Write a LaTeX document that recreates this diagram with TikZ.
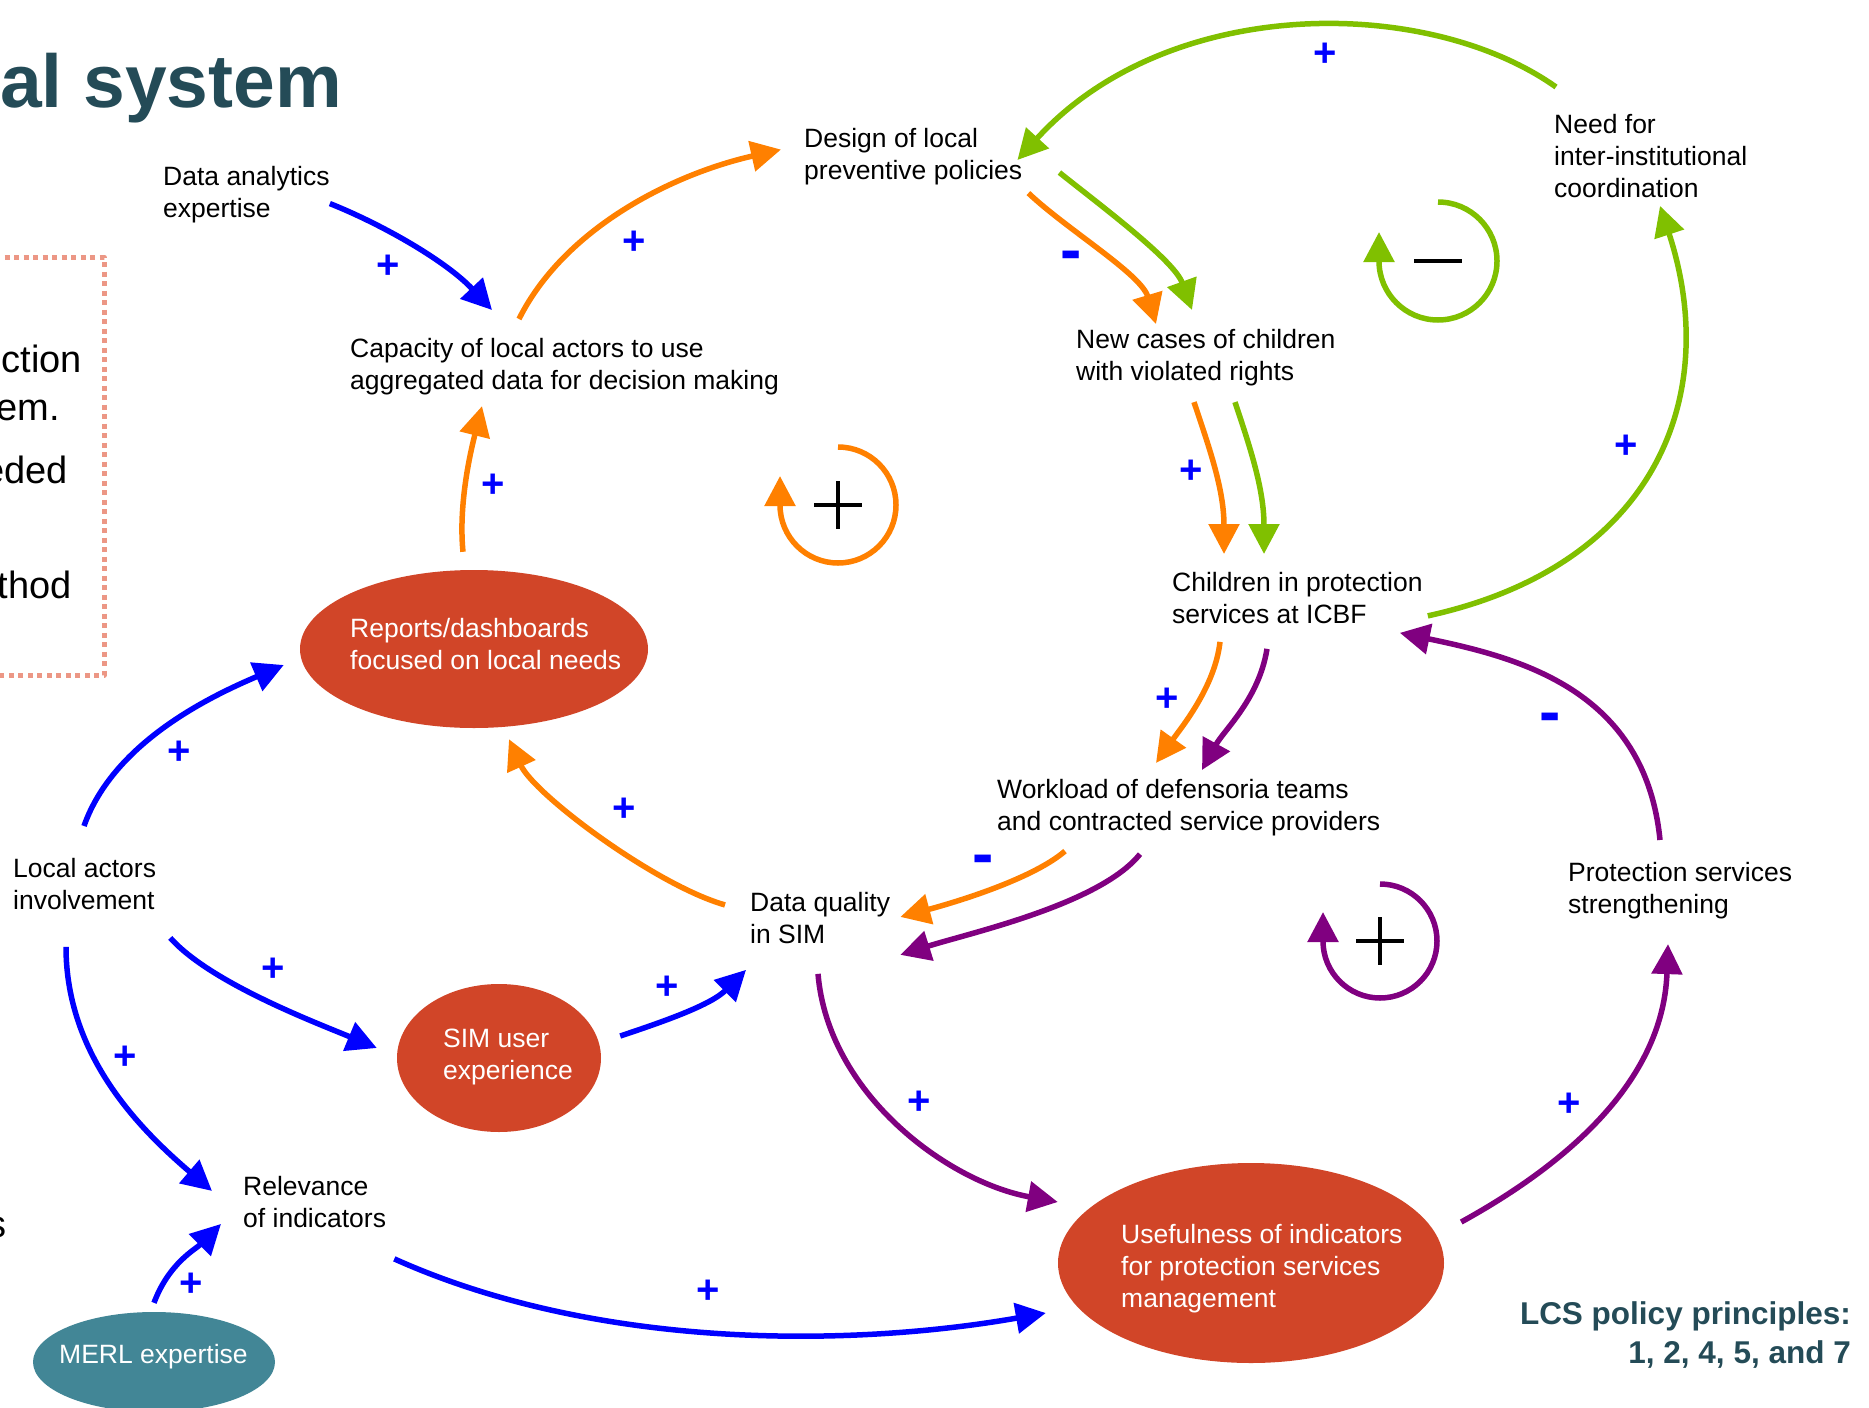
\documentclass[tikz,border=0pt]{standalone}
\usepackage{fontspec}
\setmainfont{Liberation Sans}
\usetikzlibrary{arrows.meta,shapes.geometric}
\definecolor{cblue}{HTML}{0000FF}
\definecolor{corange}{HTML}{FF8000}
\definecolor{cgreen}{HTML}{80C000}
\definecolor{cpurple}{HTML}{800080}
\definecolor{cred}{HTML}{D14528}
\definecolor{cteal}{HTML}{428696}
\definecolor{ctitle}{HTML}{244B57}
\definecolor{csalmon}{HTML}{EC9785}
\newcommand\txt{\fontsize{26.5}{32}\selectfont}
\newcommand\sgn{\fontsize{40}{40}\selectfont\bfseries}
\newcommand\dsh{\fontsize{64}{64}\selectfont\bfseries}
\newcommand\frag{\fontsize{38}{46}\selectfont}
\begin{document}
\begin{tikzpicture}[x=1pt,y=-1pt,>={Triangle[length=30pt,width=30pt]},line join=round,
	lbl/.style={font=\txt,align=left,inner sep=0pt,anchor=north west},
	wlbl/.style={lbl,text=white},
	blob/.style={ellipse,fill=cred,inner sep=0pt},
	lnk/.style={line width=5.5pt,->},
	possign/.style={font=\sgn,text=cblue,inner sep=0pt},
	negsign/.style={font=\dsh,text=cblue,inner sep=0pt},
	polmark/.style={line width=3.5pt,black}]
	\useasboundingbox (0,0) rectangle (1869,1408);
	\node[font=\fontsize{75}{75}\selectfont\bfseries,text=ctitle,inner sep=0pt,anchor=base west] (ttl) at (0,107) {al system};
	\draw[csalmon,line width=5pt,dash pattern=on 5pt off 4.5pt] (-5,257) -- (104,257) -- (104,675) -- (-5,675);
	\node[font=\frag,inner sep=0pt,anchor=base east] (fa) at (82,372) {ection};
	\node[font=\frag,inner sep=0pt,anchor=base east] (fb) at (60,420) {em.};
	\node[font=\frag,inner sep=0pt,anchor=base east] (fc) at (68,483) {eded};
	\node[font=\frag,inner sep=0pt,anchor=base east] (fd) at (72,598) {thod};
	\node[font=\frag,inner sep=0pt,anchor=base east] (fe) at (7,1237) {s};

	\node[lbl] (dae) at (163,166) {Data analytics\\expertise};
	\node[lbl] (cap) at (350,338) {Capacity of local actors to use\\aggregated data for decision making};
	\node[lbl] (dlp) at (804,128) {Design of local\\preventive policies};
	\node[lbl] (ncc) at (1076,329) {New cases of children\\with violated rights};
	\node[lbl] (nic) at (1554,114) {Need for\\inter-institutional\\coordination};
	\node[lbl] (cps) at (1172,572) {Children in protection\\services at ICBF};
	\node[lbl] (wdt) at (997,779) {Workload of defensoria teams\\and contracted service providers};
	\node[lbl] (dqs) at (750,892) {Data quality\\in SIM};
	\node[lbl] (psv) at (1568,862) {Protection services\\strengthening};
	\node[lbl] (lai) at (13,858) {Local actors\\involvement};
	\node[lbl] (roi) at (243,1176) {Relevance\\of indicators};

	\node[blob,minimum width=348pt,minimum height=158pt] (rep) at (474,649) {};
	\node[wlbl] (reptxt) at (350,618) {Reports/dashboards\\focused on local needs};
	\node[blob,minimum width=204pt,minimum height=148pt] (sue) at (499,1058) {};
	\node[wlbl] (suetxt) at (443,1029) {SIM user\\experience};
	\node[blob,minimum width=386pt,minimum height=200pt] (uip) at (1251,1263) {};
	\node[wlbl] (uiptxt) at (1121,1224) {Usefulness of indicators\\for protection services\\management};
	\node[blob,fill=cteal,minimum width=242pt,minimum height=100pt] (mex) at (154,1362) {};
	\node[wlbl] (mextxt) at (59,1344) {MERL expertise};
	\node[font=\fontsize{31.5}{39}\selectfont\bfseries,text=ctitle,align=right,inner sep=0pt,anchor=north east] (lcs) at (1851,1301) {LCS policy principles:\\1, 2, 4, 5, and 7};

	\draw[lnk,cblue] ([shift={(0,9)}]dae.east) .. controls +(55,22) and +(-45,-48) .. ([shift={(142,-28)}]cap.north west);
	\draw[lnk,cblue] ([shift={(71,-32)}]lai.north west) .. controls +(30,-85) and +(-70,30) .. ([shift={(-16,16)}]rep.west);
	\draw[lnk,cblue] ([shift={(14,28)}]lai.south east) .. controls +(40,45) and +(-60,-25) .. ([shift={(-20,-10)}]sue.west);
	\draw[lnk,cblue] ([shift={(53,37)}]lai.south west) .. controls +(0,110) and +(-70,-60) .. ([shift={(-31,-11)}]roi.west);
	\draw[lnk,cblue] ([shift={(19,-22)}]sue.east) .. controls +(45,-15) and +(-35,35) .. ([shift={(-4,26)}]dqs.south west);
	\draw[lnk,cblue] ([shift={(0,-9)}]mex.north) .. controls +(15,-40) and +(-25,25) .. ([shift={(-22,22)}]roi.west);
	\draw[lnk,cblue] ([shift={(8,31)}]roi.south east) .. controls +(200,90) and +(-200,35) .. ([shift={(-12,50)}]uip.west);

	\draw[lnk,corange] ([shift={(169,-19)}]cap.north west) .. controls +(45,-90) and +(-110,25) .. ([shift={(-23,-7)}]dlp.west);
	\draw[lnk,corange] ([shift={(-11,-18)}]rep.north) .. controls +(-5,-50) and +(-10,40) .. ([shift={(132,11)}]cap.south west);
	\draw[lnk,corange] ([shift={(6,8)}]dlp.south east) .. controls +(38,36) and +(-15,-50) .. ([shift={(80,-5)}]ncc.north west);
	\draw[lnk,corange] ([shift={(118,16)}]ncc.south west) .. controls +(15,45) and +(0,-65) .. ([shift={(52,-18)}]cps.north west);
	\draw[lnk,corange] ([shift={(48,18)}]cps.south west) .. controls +(-5,45) and +(25,-35) .. ([shift={(159,-16)}]wdt.north west);
	\draw[lnk,corange] ([shift={(68,15)}]wdt.south west) .. controls +(-35,30) and +(45,-12) .. ([shift={(10,-1)}]dqs.east);
	\draw[lnk,corange] ([shift={(-25,-13)}]dqs.west) .. controls +(-70,-20) and +(25,55) .. ([shift={(35,11)}]rep.south);

	\draw[lnk,cgreen] ([shift={(37,16)}]dlp.east) .. controls +(40,32) and +(-18,-50) .. ([shift={(116,-19)}]ncc.north west);
	\draw[lnk,cgreen] ([shift={(2,-27)}]nic.north west) .. controls +(-130,-92) and +(150,-165) .. ([shift={(-5,32)}]dlp.north east);
	\draw[lnk,cgreen] ([shift={(5,-8)}]cps.south east) .. controls +(228,-50) and +(62,190) .. ([shift={(106,8)}]nic.south west);
	\draw[lnk,cgreen] ([shift={(159,16)}]ncc.south west) .. controls +(15,45) and +(0,-65) .. ([shift={(92,-18)}]cps.north west);

	\draw[lnk,cpurple] ([shift={(95,25)}]cps.south west) .. controls +(-8,50) and +(22,-40) .. ([shift={(205,-9)}]wdt.north west);
	\draw[lnk,cpurple] ([shift={(92,-22)}]psv.north west) .. controls +(-15,-150) and +(120,25) .. ([shift={(-23,9)}]cps.south east);
	\draw[lnk,cpurple] ([shift={(143,18)}]wdt.south west) .. controls +(-40,50) and +(70,-22) .. ([shift={(10,11)}]dqs.south east);
	\draw[lnk,cpurple] ([shift={(68,30)}]dqs.south west) .. controls +(10,120) and +(-110,-20) .. ([shift={(0,-61)}]uip.west);
	\draw[lnk,cpurple] ([shift={(17,-41)}]uip.east) .. controls +(100,-55) and +(-5,140) .. ([shift={(100,25)}]psv.south west);

	\node[possign] (pa) at (388,267) {+};
	\node[possign] (pb) at (634,243) {+};
	\node[possign] (pc) at (493,486) {+};
	\node[negsign] (ma) at (1071,261) {-};
	\node[possign] (pd) at (1325,55) {+};
	\node[possign] (pe) at (1626,447) {+};
	\node[possign] (pf) at (1191,472) {+};
	\node[possign] (pg) at (1167,700) {+};
	\node[negsign] (mb) at (1550,723) {-};
	\node[negsign] (mc) at (983,865) {-};
	\node[possign] (ph) at (624,810) {+};
	\node[possign] (pi) at (919,1103) {+};
	\node[possign] (pj) at (1569,1105) {+};
	\node[possign] (pk) at (179,753) {+};
	\node[possign] (pl) at (273,970) {+};
	\node[possign] (pm) at (667,988) {+};
	\node[possign] (pn) at (125,1058) {+};
	\node[possign] (po) at (191,1285) {+};
	\node[possign] (pq) at (708,1292) {+};

	\coordinate (lpa) at (838,505);
	\coordinate (lpb) at (1438,261);
	\coordinate (lpc) at (1380,941);
	\draw[line width=5.5pt,corange,->] ([shift={(0,-58)}]lpa) arc[start angle=90,end angle=-180,radius=58pt] -- ++(0,-29);
	\draw[line width=5.5pt,cgreen,->] ([shift={(0,-59)}]lpb) arc[start angle=90,end angle=-180,radius=59pt] -- ++(0,-29);
	\draw[line width=5.5pt,cpurple,->] ([shift={(0,-57)}]lpc) arc[start angle=90,end angle=-180,radius=57pt] -- ++(0,-29);
	\draw[polmark] (lpa) +(-24,0) -- +(24,0) (lpa) +(0,-24) -- +(0,24);
	\draw[polmark,line width=4pt] (lpb) +(-24,0) -- +(24,0);
	\draw[polmark] (lpc) +(-24,0) -- +(24,0) (lpc) +(0,-24) -- +(0,24);
\end{tikzpicture}
\end{document}
